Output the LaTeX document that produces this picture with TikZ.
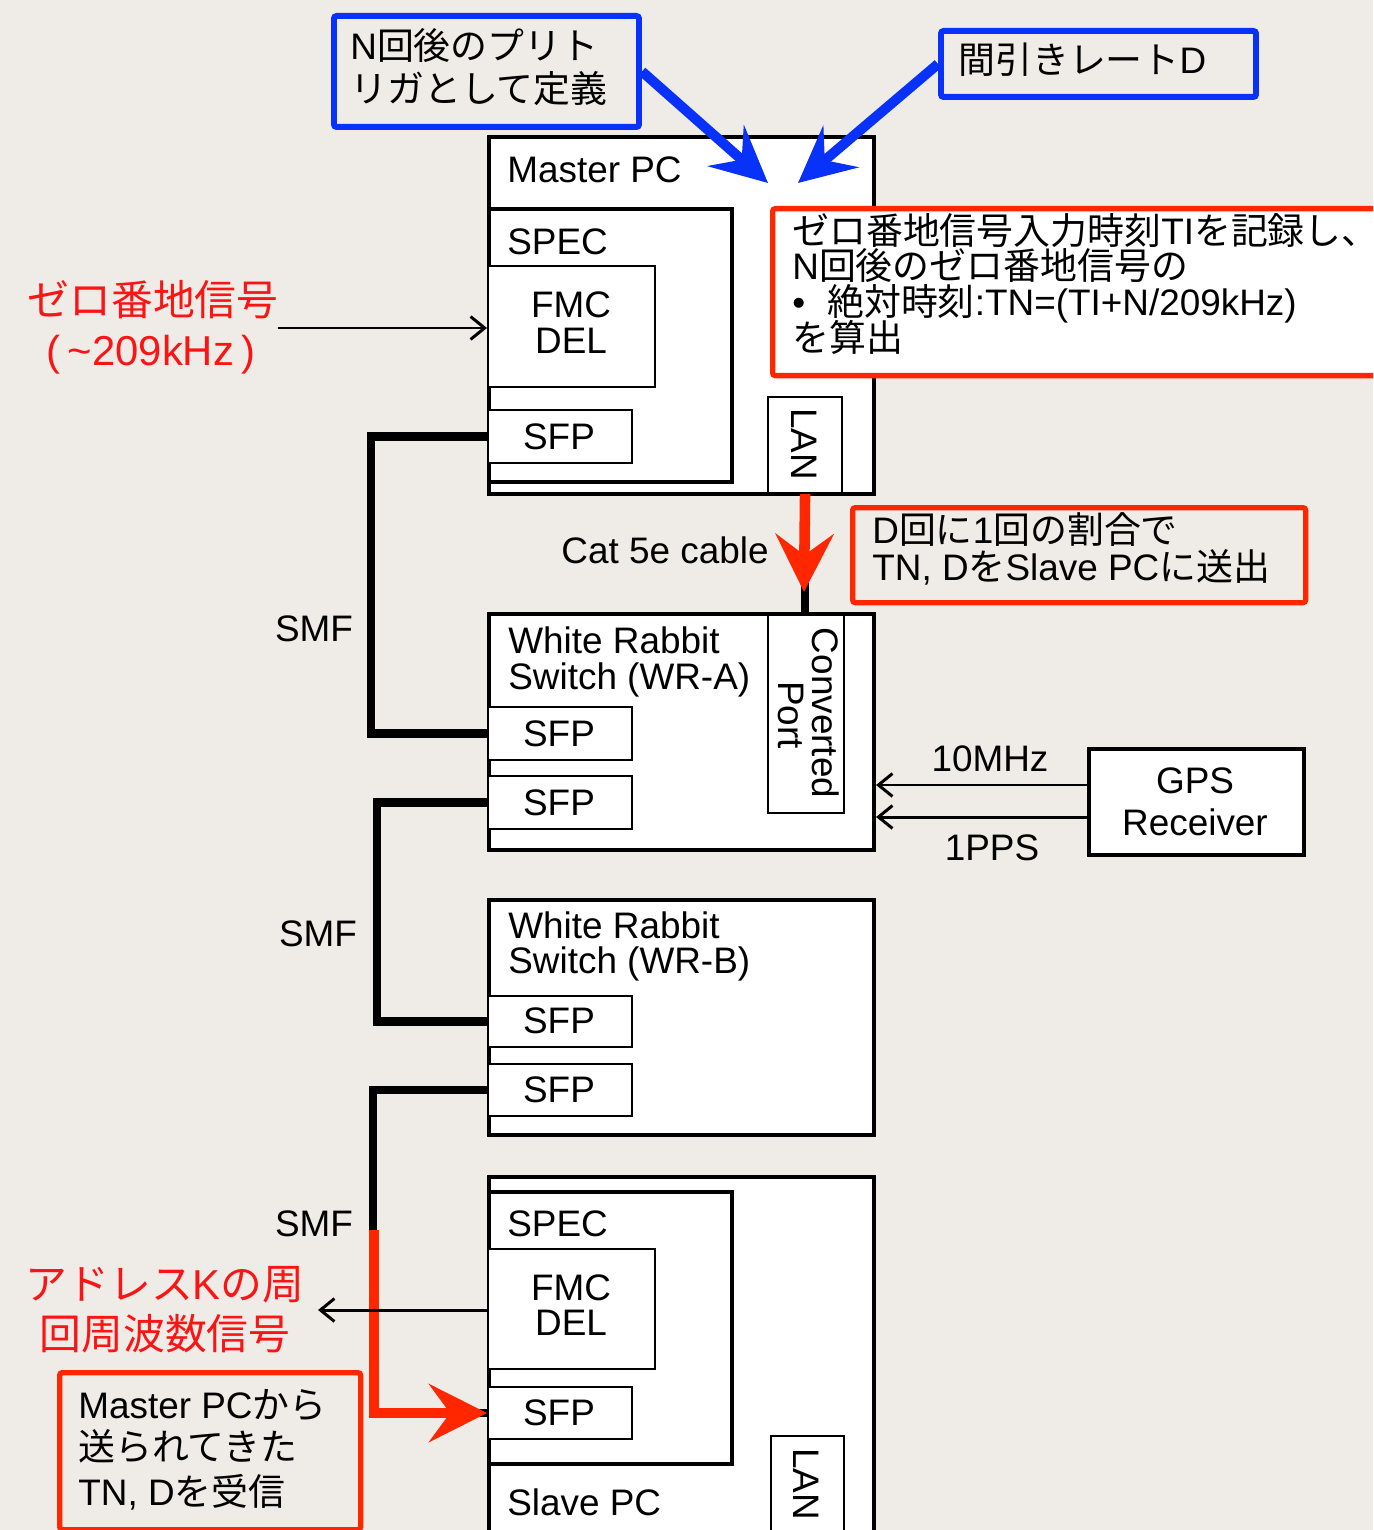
\documentclass[tikz,border=0pt]{standalone}
\usepackage{fontspec}
\setmainfont{Liberation Sans}
\newfontfamily\jpfont{Noto Sans CJK JP}
\usetikzlibrary{arrows.meta}
\newcommand\J[1]{{\jpfont #1}}
\definecolor{bg}{RGB}{239,236,231}
\definecolor{kblue}{RGB}{8,50,250}
\definecolor{kred}{RGB}{255,38,0}
\definecolor{tred}{RGB}{250,20,20}
\newcommand\mkbox[6]{\node[#2, anchor=north west, minimum width={(#5-#3)*0.02cm}, minimum height={(#6-#4)*0.02cm}] (#1) at (#3,#4) {};}
\begin{document}
\begin{tikzpicture}[x=0.02cm,y=-0.02cm,
  thickbox/.style={draw=black, line width=2.3pt, fill=white, inner sep=0pt},
  thinbox/.style={draw=black, line width=1.2pt, fill=white, inner sep=0pt},
  bluebox/.style={draw=kblue, line width=3.4pt, rounded corners=1.5pt, inner sep=0pt},
  redbox/.style={draw=kred, line width=3pt, rounded corners=1.5pt, inner sep=0pt},
  whitered/.style={redbox, fill=white},
  txt/.style={anchor=base west, inner sep=0pt, font=\fontsize{21}{21}\selectfont},
  ctxt/.style={anchor=base, inner sep=0pt, font=\fontsize{21}{21}\selectfont},
  bigred/.style={anchor=base, inner sep=0pt, text=tred, font=\fontsize{23.8}{23.8}\selectfont},
  rot/.style={rotate=-90, inner sep=0pt, font=\fontsize{21}{21}\selectfont},
  smf/.style={line width=5pt, line join=miter},
  sig/.style={line width=1.7pt, -{Straight Barb[length=8pt,width=13pt]}},
  bluearrow/.style={draw=kblue, line width=5.7pt, -{Stealth[length=32pt,width=31pt,inset=12pt]}},
  redarrow/.style={draw=kred, line width=6pt, -{Stealth[length=33pt,width=33pt,inset=12pt]}}
]
\useasboundingbox (0,0) rectangle (1373,1530);
\fill[bg] (0,0) rectangle (1373,1530);
\clip (0,0) rectangle (1373,1530);

% ---- boxes ----
\mkbox{master}{thickbox}{487}{135}{872}{492}
\mkbox{mspec}{thickbox}{487}{207}{730}{480}
\mkbox{mfmc}{thinbox}{487}{265}{654}{386}
\mkbox{msfp}{thinbox}{487}{409}{631}{462}
\mkbox{mlan}{thinbox}{767}{396}{841}{492}

\mkbox{wra}{thickbox}{487}{612}{872}{848}
\mkbox{asfpa}{thinbox}{487}{706}{631}{759}
\mkbox{asfpb}{thinbox}{487}{775}{631}{828}
\mkbox{conv}{thinbox}{767}{614}{843}{812}

\mkbox{gps}{thickbox}{1087}{747}{1302}{853}

\mkbox{wrb}{thickbox}{487}{898}{872}{1133}
\mkbox{bsfpa}{thinbox}{487}{995}{631}{1046}
\mkbox{bsfpb}{thinbox}{487}{1063}{631}{1115}

\mkbox{slave}{thickbox}{487}{1175}{872}{1560}
\mkbox{sspec}{thickbox}{487}{1190}{730}{1462}
\mkbox{sfmc}{thinbox}{487}{1248}{654}{1368}
\mkbox{ssfp}{thinbox}{487}{1386}{631}{1438}
\mkbox{slan}{thinbox}{770}{1435}{843}{1560}

% ---- SMF fibres ----
\draw[smf] (msfp.west) -- ++(-116,0) |- (asfpa.west);
\draw[smf] (asfpb.west) -- ++(-110,0) |- (bsfpa.west);
\draw[smf] (bsfpb.west) -- ++(-114,0) |- (ssfp.west);
\coordinate (redstart) at (374,1230);
\draw[redarrow] (redstart) |- (ssfp.west);

% ---- Cat 5e ----
\draw[smf] (mlan.south) -- (mlan.south |- wra.north);
\coordinate (cattip) at (804,592);
\draw[redarrow] (mlan.south) -- (cattip);

% ---- signals ----
\coordinate (zin) at (278,328);
\draw[sig] (zin) -- (mfmc.west |- zin);
\coordinate (kout) at (318,1310);
\draw[sig] (sfmc.west |- kout) -- (kout);
\draw[sig] (gps.west |- 0,785) -- (wra.east |- 0,785);
\draw[sig] (gps.west |- 0,817) -- (wra.east |- 0,817);

% ---- notes ----
\mkbox{blueA}{bluebox}{331}{13}{636}{124}
\mkbox{blueB}{bluebox}{938}{28}{1253}{94}
\coordinate (tipA) at (768,183);
\coordinate (tipB) at (798,183);
\draw[bluearrow] (blueA.east) -- (tipA);
\draw[bluearrow] (blueB.west) -- (tipB);
\mkbox{noteA}{whitered}{770}{206}{1395}{373}
\mkbox{noteB}{redbox}{850}{505}{1303}{600}
\mkbox{noteC}{redbox}{57}{1370}{358}{1527}

% ---- texts ----
\node[txt] (tMaster) at (507,183) {Master PC};
\node[txt] (tMspec) at (507,255) {SPEC};
\node[ctxt] (tMfmc1) at (571,318) {FMC};
\node[ctxt] (tMfmc2) at (571,354) {DEL};
\node[ctxt] (tMsfp) at (559,449) {SFP};
\node[rot] (tMlan) at (804,444) {LAN};

\node[txt] (tB1) at (350,60) {N\J{回後のプリト}};
\node[txt] (tB2) at (350,103) {\J{リガとして定義}};
\node[txt] (tB3) at (958,74) {\J{間引きレート}D};

\node[txt] (tN1) at (792,245) {\J{ゼロ番地信号入力時刻}TI\J{を記録し、}};
\node[txt] (tN2) at (792,280) {N\J{回後のゼロ番地信号の}};
\node[txt] (tN3) at (792,316) {•\hspace{12.5pt}\J{絶対時刻}:TN=(TI+N/209kHz)};
\node[txt] (tN4) at (792,352) {\J{を算出}};

\node[bigred] (tZ1) at (153,316) {\J{ゼロ番地信号}};
\node[bigred] (tZ2) at (151,366) {(\hspace{4pt}{\char"7E}209kHz\hspace{4pt})};

\node[ctxt] (tCat) at (665,563) {Cat 5e cable};
\node[txt] (tD1) at (872,543) {D\J{回に}1\J{回の割合で}};
\node[txt] (tD2) at (872,580) {TN, D\J{を}Slave PC\J{に送出}};

\node[ctxt] (tSmf1) at (314,641) {SMF};
\node[ctxt] (tSmf2) at (318,946) {SMF};
\node[ctxt] (tSmf3) at (314,1236) {SMF};

\node[txt] (tWA1) at (508,653) {White Rabbit};
\node[txt] (tWA2) at (508,689) {Switch (WR-A)};
\node[ctxt] (tAs1) at (559,746) {SFP};
\node[ctxt] (tAs2) at (559,815) {SFP};
\node[rot] (tCv1) at (826,713) {Converted};
\node[rot] (tCv2) at (791,715) {Port};

\node[ctxt] (t10) at (990,771) {10MHz};
\node[ctxt] (t1pps) at (992,860) {1PPS};
\node[ctxt] (tG1) at (1195,793) {GPS};
\node[ctxt] (tG2) at (1195,835) {Receiver};

\node[txt] (tWB1) at (508,938) {White Rabbit};
\node[txt] (tWB2) at (508,973) {Switch (WR-B)};
\node[ctxt] (tBs1) at (559,1033) {SFP};
\node[ctxt] (tBs2) at (559,1102) {SFP};

\node[txt] (tSspec) at (507,1236) {SPEC};
\node[ctxt] (tSfmc1) at (571,1300) {FMC};
\node[ctxt] (tSfmc2) at (571,1335) {DEL};
\node[ctxt] (tSsfp) at (559,1425) {SFP};
\node[txt] (tSlave) at (507,1515) {Slave PC};
\node[rot] (tSlan) at (806,1484) {LAN};

\node[bigred] (tK1) at (165,1299) {\J{アドレス}K\J{の周}};
\node[bigred] (tK2) at (165,1349) {\J{回周波数信号}};

\node[txt] (tR1) at (78,1418) {Master PC\J{から}};
\node[txt] (tR2) at (78,1460) {\J{送られてきた}};
\node[txt] (tR3) at (78,1505) {TN, D\J{を受信}};
\end{tikzpicture}
\end{document}
